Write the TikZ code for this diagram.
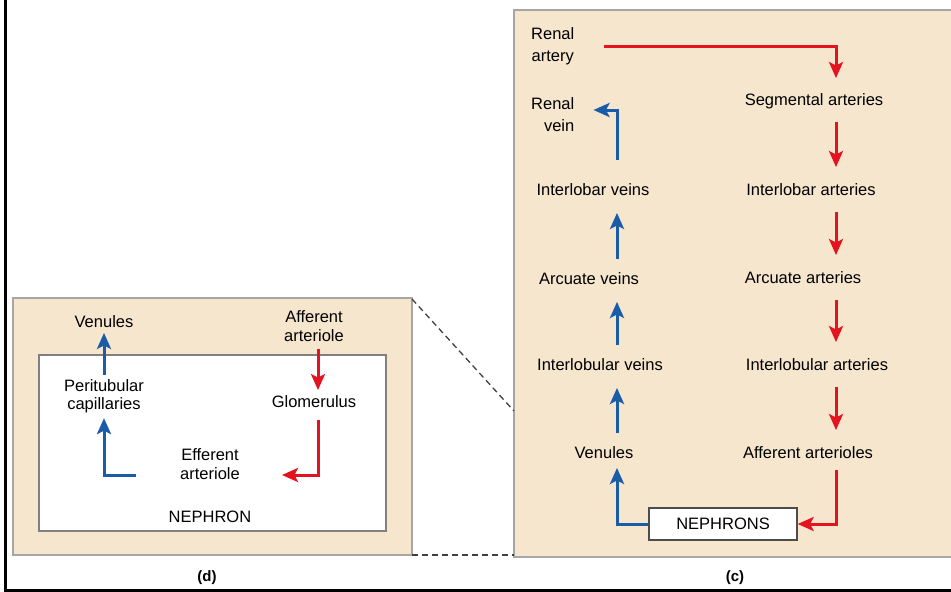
\documentclass[tikz,border=0pt]{standalone}
\usepackage{fontspec}
\setmainfont{Liberation Sans}
\usetikzlibrary{arrows.meta}

\definecolor{paneltan}{HTML}{F5E6CD}
\definecolor{panelgray}{HTML}{A6A6A6}
\definecolor{artred}{HTML}{E3141F}
\definecolor{veinblue}{HTML}{1B5CA8}

\tikzset{
	lbl/.style={font=\fontsize{16.5}{20}\selectfont, inner sep=0pt, text height=12pt, text depth=3.5pt},
	lbltwo/.style={font=\fontsize{16.5}{18.5}\selectfont, inner sep=0pt, align=center},
	artarr/.style={draw=artred, line width=3pt, -{Stealth[length=16pt,width=14pt,inset=3.5pt]}},
	veinarr/.style={draw=veinblue, line width=3pt, -{Stealth[length=16pt,width=14pt,inset=3.5pt]}},
	panel/.style={draw=panelgray, line width=2pt, fill=paneltan}
}

\begin{document}
\begin{tikzpicture}[x=1pt,y=-1pt]
	\useasboundingbox (0,0) rectangle (951,592);

	% frame and panels
	\draw[line width=3pt] (5,0) -- (5,590) -- (951,590);
	\draw[panel] (13,298) rectangle (412,555);
	\draw[draw=gray, line width=1.5pt, fill=white] (39,355) rectangle (386,531);
	\draw[panel] (514,10) rectangle (956,557);
	\draw[dashed, draw=black!75, line width=1.3pt, dash pattern=on 6pt off 4pt] (412,299) -- (514,411);
	\draw[dashed, draw=black!75, line width=1.3pt, dash pattern=on 6pt off 4pt] (412,555) -- (514,555);

	% (c) columns
	\coordinate (acol) at (836,0);
	\coordinate (vcol) at (617,0);

	\node[lbltwo, font=\fontsize{16.5}{22}\selectfont, anchor=west] (renart) at (531,46) {Renal\\artery};
	\node[lbltwo, align=right, font=\fontsize{16.5}{22}\selectfont, anchor=west] (renvein) at (531,115) {Renal\\vein};

	\node[lbl] (segart) at (814,101) {Segmental arteries};
	\node[lbl] (intart) at (811,191) {Interlobar arteries};
	\node[lbl] (arcart) at (803,279) {Arcuate arteries};
	\node[lbl] (ilbart) at (817,366) {Interlobular arteries};
	\node[lbl] (affart) at (808,454) {Afferent arterioles};

	\node[lbl] (intvein) at (593,191) {Interlobar veins};
	\node[lbl] (arcvein) at (589,280) {Arcuate veins};
	\node[lbl] (ilbvein) at (600,366) {Interlobular veins};
	\node[lbl] (venules) at (604,454) {Venules};

	\node[draw=black!70, line width=1.3pt, fill=white, minimum width=148pt, minimum height=32pt,
		font=\fontsize{16.5}{20}\selectfont] (nephrons) at (723,524) {NEPHRONS};

	\draw[artarr, shorten <=29pt, shorten >=15pt] (renart.east) -| (segart.north -| acol);
	\foreach \a/\b in {segart/intart, intart/arcart, arcart/ilbart, ilbart/affart}{
		\draw[artarr, shorten <=13pt, shorten >=16pt] (\a.south -| acol) -- (\b.north -| acol);
	}
	\draw[artarr, shorten <=8pt] (affart.south -| acol) |- (nephrons.east);

	\draw[veinarr, shorten >=6pt] (nephrons.west) -| (venules.south -| vcol);
	\foreach \a/\b in {venules/ilbvein, ilbvein/arcvein, arcvein/intvein}{
		\draw[veinarr, shorten <=13pt, shorten >=14pt] (\a.north -| vcol) -- (\b.south -| vcol);
	}
	\draw[veinarr, shorten <=23pt, shorten >=19pt] (intvein.north -| vcol) |- ([yshift=5pt]renvein.east);

	\node[font=\bfseries\fontsize{15}{18}\selectfont] (clab) at (735,578) {(c)};

	% (d) nephron
	\coordinate (dacol) at (318,0);

	\node[lbl] (dven) at (104,323) {Venules};
	\node[lbltwo] (peri) at (104,396) {Peritubular\\capillaries};
	\node[lbltwo] (eff) at (210,464) {Efferent\\arteriole};
	\node[lbltwo] (aff) at (314,326) {Afferent\\arteriole};
	\node[lbl] (glom) at (314,403) {Glomerulus};
	\node[lbl] (nephron) at (210,518) {NEPHRON};

	\draw[artarr, shorten <=7pt, shorten >=5pt] (aff.south -| dacol) -- (glom.north -| dacol);
	\draw[artarr, shorten <=9pt, shorten >=42pt] (glom.south -| dacol) |- ([yshift=-11pt]eff.east);
	\draw[veinarr, shorten <=44pt, shorten >=5pt] ([yshift=-11pt]eff.west) -| (peri.south);
	\draw[veinarr, shorten <=4pt, shorten >=2pt] (peri.north) -- (dven.south);

	\node[font=\bfseries\fontsize{15}{18}\selectfont] (dlab) at (207,578) {(d)};
\end{tikzpicture}
\end{document}
